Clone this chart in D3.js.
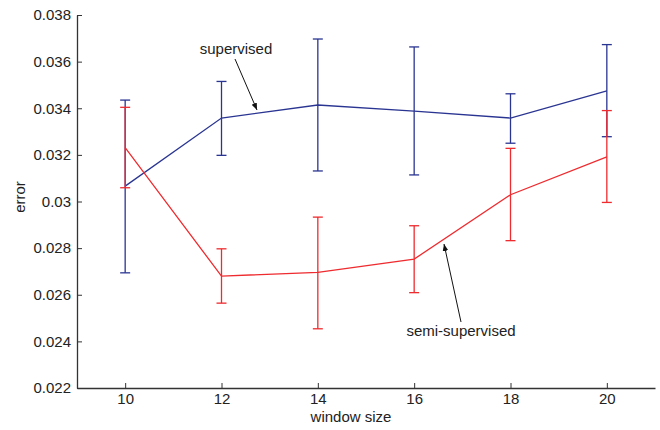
<!DOCTYPE html>
<html>
<head>
<meta charset="utf-8">
<script src="https://cdn.jsdelivr.net/npm/d3@7"></script>
<style>
  body { margin: 0; background: #fff; }
  text { font-family: "Liberation Sans", Arial, sans-serif; fill: #222; }
</style>
</head>
<body>
<div id="main"></div>
<script>
/// data ///
const windowSizes = [10, 12, 14, 16, 18, 20];

const supMean = [0.03066, 0.03358, 0.03414, 0.03388, 0.03358, 0.03475];
const supHigh = [0.03435, 0.03515, 0.03697, 0.03663, 0.03462, 0.03673];
const supLow  = [0.02694, 0.03198, 0.03131, 0.03114, 0.03250, 0.03278];

const semiMean = [0.03231, 0.02680, 0.02696, 0.02753, 0.03029, 0.03191];
const semiHigh = [0.03404, 0.02797, 0.02933, 0.02896, 0.03228, 0.03390];
const semiLow  = [0.03059, 0.02564, 0.02454, 0.02609, 0.02832, 0.02996];

const yTicks = [0.022, 0.024, 0.026, 0.028, 0.03, 0.032, 0.034, 0.036, 0.038];
const xTicks = [10, 12, 14, 16, 18, 20];

// specs of the svg frame //
const w = 660;
const h = 430;
const padLeft = 77, padRight = 655, padTop = 15, padBottom = 388;
const fontSize = '15px';

let svg = d3.select('#main')
    .append('svg')
    .attr('width', w)
    .attr('height', h);

svg.append('defs').append('marker')
    .attr('id', 'arrow')
    .attr('viewBox', '0 0 10 10')
    .attr('refX', 10).attr('refY', 5)
    .attr('markerWidth', 7).attr('markerHeight', 7)
    .attr('markerUnits', 'userSpaceOnUse')
    .attr('orient', 'auto')
    .append('path')
    .attr('d', 'M0,1 L10,5 L0,9 Z')
    .attr('fill', '#111');

let xScale = d3.scaleLinear().domain([9, 21]).range([padLeft, padRight]);
let yScale = d3.scaleLinear().domain([0.022, 0.038]).range([padBottom, padTop]);

// axes, ticks pointing inward like matlab //
let xAxis = d3.axisBottom(xScale)
    .tickValues(xTicks)
    .tickSizeInner(-5).tickSizeOuter(0)
    .tickPadding(5)
    .tickFormat(d3.format('d'));

let yAxis = d3.axisLeft(yScale)
    .tickValues(yTicks)
    .tickSizeInner(-5).tickSizeOuter(0)
    .tickPadding(6)
    .tickFormat(d => String(+d.toFixed(3)));

let gx = svg.append('g')
    .attr('transform', 'translate(0,' + padBottom + ')')
    .call(xAxis);
let gy = svg.append('g')
    .attr('transform', 'translate(' + padLeft + ',0)')
    .call(yAxis);

[gx, gy].forEach(g => {
    g.select('.domain').attr('stroke', '#333').attr('stroke-width', 1.3);
    g.selectAll('.tick line').attr('stroke', '#333').attr('stroke-width', 1);
    g.selectAll('.tick text')
        .style('font-family', '"Liberation Sans", Arial, sans-serif')
        .style('font-size', fontSize)
        .attr('fill', '#222');
});

// axis labels
svg.append('text')
    .attr('x', 351).attr('y', 422)
    .style('text-anchor', 'middle')
    .style('font-size', fontSize)
    .text('window size');

svg.append('text')
    .attr('transform', 'translate(25,197) rotate(-90)')
    .style('text-anchor', 'middle')
    .style('font-size', fontSize)
    .text('error');

/// series with error bars ///
const capHalf = 5;

let drawSeries = (mean, low, high, color) => {
    let pts = windowSizes.map((x, i) => ({ x: x, m: mean[i], lo: low[i], hi: high[i] }));

    let g = svg.append('g');

    g.selectAll('.bar')
        .data(pts)
        .enter()
        .append('line')
        .attr('x1', d => xScale(d.x)).attr('x2', d => xScale(d.x))
        .attr('y1', d => yScale(d.lo)).attr('y2', d => yScale(d.hi))
        .attr('stroke', color).attr('stroke-width', 1.3);

    ['lo', 'hi'].forEach(k => {
        g.selectAll('.cap-' + k)
            .data(pts)
            .enter()
            .append('line')
            .attr('x1', d => xScale(d.x) - capHalf).attr('x2', d => xScale(d.x) + capHalf)
            .attr('y1', d => yScale(d[k])).attr('y2', d => yScale(d[k]))
            .attr('stroke', color).attr('stroke-width', 1.3);
    });

    g.append('path')
        .datum(pts)
        .attr('fill', 'none')
        .attr('stroke', color)
        .attr('stroke-width', 1.3)
        .attr('d', d3.line().x(d => xScale(d.x)).y(d => yScale(d.m)));
};

drawSeries(supMean, supLow, supHigh, '#2a3592');
drawSeries(semiMean, semiLow, semiHigh, '#ee2b2f');

/// annotations ///
svg.append('text')
    .attr('x', 236).attr('y', 54)
    .style('text-anchor', 'middle')
    .style('font-size', fontSize)
    .text('supervised');

svg.append('line')
    .attr('x1', 235).attr('y1', 59)
    .attr('x2', 257).attr('y2', 110)
    .attr('stroke', '#111').attr('stroke-width', 1)
    .attr('marker-end', 'url(#arrow)');

svg.append('text')
    .attr('x', 461).attr('y', 336)
    .style('text-anchor', 'middle')
    .style('font-size', fontSize)
    .text('semi-supervised');

svg.append('line')
    .attr('x1', 461).attr('y1', 322)
    .attr('x2', 444).attr('y2', 244)
    .attr('stroke', '#111').attr('stroke-width', 1)
    .attr('marker-end', 'url(#arrow)');
</script>
</body>
</html>
